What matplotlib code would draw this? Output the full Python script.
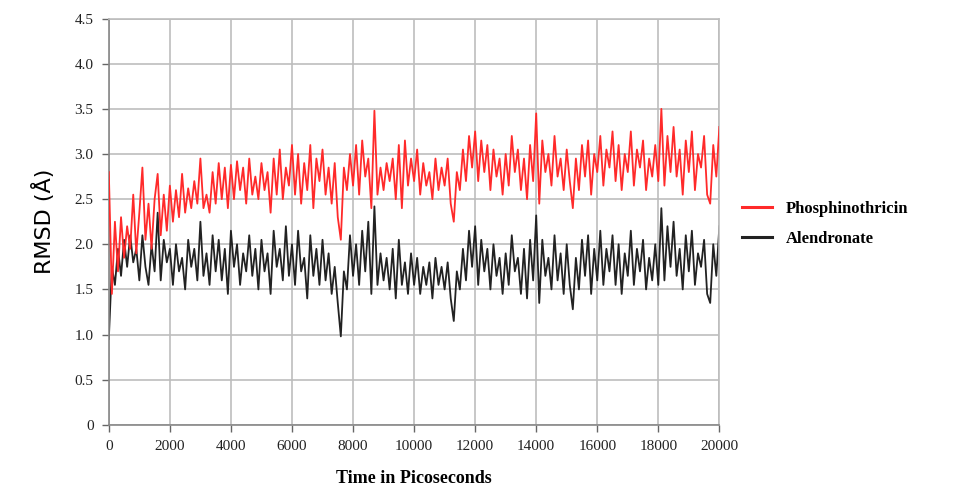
import matplotlib.pyplot as plt
import numpy as np

## RMSD traces, one value every 100 ps ##

time_ps = np.linspace(0, 20000, 201)

phosphinothricin = [
    2.80, 1.45, 2.25, 1.70, 2.30, 1.85, 2.20, 1.95, 2.55, 1.90,
    2.35, 2.85, 2.05, 2.45, 1.95, 2.50, 2.78, 2.10, 2.55, 2.15,
    2.65, 2.25, 2.60, 2.30, 2.78, 2.35, 2.62, 2.40, 2.70, 2.45,
    2.95, 2.40, 2.55, 2.35, 2.80, 2.45, 2.90, 2.50, 2.85, 2.40,
    2.88, 2.50, 2.92, 2.60, 2.85, 2.45, 2.95, 2.55, 2.75, 2.50,
    2.90, 2.60, 2.80, 2.35, 2.95, 2.55, 3.05, 2.50, 2.85, 2.65,
    3.10, 2.55, 3.00, 2.45, 2.90, 2.60, 3.10, 2.40, 2.95, 2.70,
    3.05, 2.55, 2.85, 2.45, 2.90, 2.30, 2.05, 2.85, 2.60, 3.00,
    2.65, 3.10, 2.55, 3.15, 2.75, 2.95, 2.40, 3.48, 2.55, 2.85,
    2.60, 2.90, 2.70, 2.95, 2.50, 3.10, 2.40, 3.15, 2.65, 2.95,
    2.70, 3.05, 2.55, 2.90, 2.65, 2.80, 2.50, 2.95, 2.60, 2.85,
    2.65, 2.95, 2.45, 2.25, 2.80, 2.60, 3.05, 2.70, 3.20, 2.85,
    3.25, 2.70, 3.15, 2.80, 3.10, 2.60, 3.05, 2.75, 2.95, 2.55,
    3.00, 2.65, 3.20, 2.80, 3.05, 2.60, 2.95, 2.50, 3.10, 2.70,
    3.45, 2.45, 3.15, 2.80, 3.00, 2.65, 3.20, 2.75, 2.95, 2.60,
    3.05, 2.70, 2.40, 2.95, 2.60, 3.10, 2.75, 3.15, 2.55, 3.00,
    2.80, 3.20, 2.65, 3.05, 2.85, 3.25, 2.70, 3.10, 2.60, 3.00,
    2.80, 3.25, 2.65, 3.05, 2.85, 3.15, 2.60, 2.95, 2.75, 3.10,
    2.70, 3.50, 2.65, 3.20, 2.80, 3.30, 2.75, 3.05, 2.55, 3.15,
    2.80, 3.25, 2.60, 3.00, 2.85, 3.20, 2.55, 2.45, 3.10, 2.75,
    3.30,
]

alendronate = [
    0.95, 1.75, 1.55, 1.95, 1.65, 2.05, 1.75, 2.10, 1.80, 1.95,
    1.60, 2.10, 1.75, 1.55, 2.00, 1.70, 2.35, 1.60, 2.05, 1.80,
    1.95, 1.55, 2.00, 1.70, 1.85, 1.50, 2.05, 1.75, 1.95, 1.60,
    2.25, 1.65, 1.90, 1.55, 2.10, 1.70, 2.05, 1.60, 1.95, 1.45,
    2.15, 1.75, 2.00, 1.55, 1.90, 1.70, 2.10, 1.65, 1.95, 1.50,
    2.05, 1.70, 1.90, 1.45, 2.15, 1.75, 1.95, 1.60, 2.20, 1.65,
    2.00, 1.55, 2.15, 1.70, 1.85, 1.40, 2.10, 1.65, 1.95, 1.55,
    2.05, 1.60, 1.90, 1.45, 1.75, 1.35, 0.98, 1.70, 1.50, 2.10,
    1.65, 2.00, 1.55, 2.15, 1.70, 2.25, 1.45, 2.42, 1.55, 1.90,
    1.60, 1.85, 1.50, 1.95, 1.40, 2.05, 1.55, 1.80, 1.45, 1.90,
    1.55, 1.85, 1.45, 1.75, 1.55, 1.80, 1.40, 1.85, 1.55, 1.75,
    1.50, 1.80, 1.40, 1.15, 1.70, 1.50, 1.95, 1.60, 2.15, 1.75,
    2.20, 1.55, 2.05, 1.70, 1.95, 1.50, 2.00, 1.65, 1.85, 1.45,
    1.90, 1.55, 2.10, 1.70, 1.85, 1.45, 1.95, 1.40, 2.05, 1.60,
    2.32, 1.35, 2.05, 1.65, 1.85, 1.50, 2.10, 1.60, 1.90, 1.45,
    2.00, 1.55, 1.28, 1.85, 1.50, 2.05, 1.65, 2.10, 1.45, 1.95,
    1.60, 2.15, 1.55, 1.95, 1.70, 2.10, 1.55, 2.00, 1.45, 1.90,
    1.65, 2.15, 1.55, 1.95, 1.70, 2.05, 1.50, 1.85, 1.60, 2.00,
    1.55, 2.40, 1.60, 2.20, 1.75, 2.25, 1.65, 1.95, 1.50, 2.10,
    1.70, 2.15, 1.55, 1.90, 1.75, 2.05, 1.45, 1.35, 2.00, 1.65,
    2.20,
]

x_ticks = [0, 2000, 4000, 6000, 8000, 10000, 12000, 14000, 16000, 18000, 20000]
y_ticks = [0, 0.5, 1.0, 1.5, 2.0, 2.5, 3.0, 3.5, 4.0, 4.5]
y_ticklabels = ['0', '0.5', '1.0', '1.5', '2.0', '2.5', '3.0', '3.5', '4.0', '4.5']

serif = 'Liberation Serif'
grid_col = '#bdbdbd'

fig = plt.figure(figsize=(9.63, 4.9), dpi=100)
ax = fig.add_axes((0.113, 0.133, 0.634, 0.829))

ax.plot(time_ps, phosphinothricin, color='#ff2a2a', lw=1.3, label='Phosphinothricin', zorder=3)
ax.plot(time_ps, alendronate, color='#222222', lw=1.3, label='Alendronate', zorder=2)

ax.set_xlim(0, 20000)
ax.set_ylim(0, 4.5)
ax.set_xticks(x_ticks)
ax.set_xticklabels([str(t) for t in x_ticks], fontfamily=serif, fontsize=11)
ax.set_yticks(y_ticks)
ax.set_yticklabels(y_ticklabels, fontfamily=serif, fontsize=11)
ax.tick_params(axis='both', colors='#666666', length=5, width=1.0, labelcolor='#222222', pad=6)

ax.grid(True, color=grid_col, lw=1.2)
ax.set_axisbelow(True)
for side in ['top', 'right', 'left', 'bottom']:
    ax.spines[side].set_color(grid_col)
    ax.spines[side].set_linewidth(1.2)
ax.spines['left'].set_color('#888888')
ax.spines['bottom'].set_color('#888888')

ax.set_ylabel('RMSD (Å)', fontfamily='DejaVu Sans', fontsize=16, labelpad=14)
ax.set_xlabel('Time in Picoseconds', fontfamily=serif, fontsize=13, fontweight='bold', labelpad=12)

leg = fig.legend(loc='upper left', bbox_to_anchor=(0.755, 0.62), frameon=False,
                 prop={'family': serif, 'weight': 'bold', 'size': 12},
                 handlelength=1.8, labelspacing=0.8)
for h in leg.get_lines():
    h.set_linewidth(2.2)

fig.savefig('out.png', dpi=100)
